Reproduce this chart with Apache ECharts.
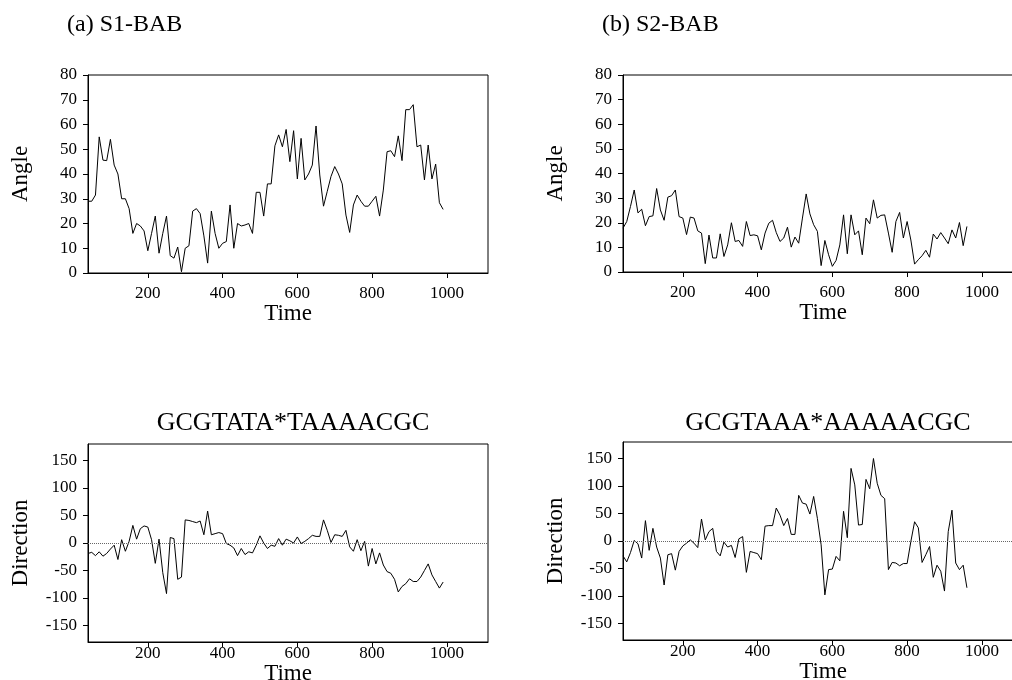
<!DOCTYPE html>
<html>
<head>
<meta charset="utf-8">
<script src="https://cdn.jsdelivr.net/npm/echarts@6/dist/echarts.min.js"></script>
<style>
html,body{margin:0;padding:0;background:#fff;}
#c{width:1012px;height:680px;}
</style>
</head>
<body>
<div id="c"></div>
<script>
// ---- data ----
const timeA = [40,50,60,70,80,90,100,110,120,130,140,150,160,170,180,190,200,210,220,230,240,250,260,270,280,290,300,310,320,330,340,350,360,370,380,390,400,410,420,430,440,450,460,470,480,490,500,510,520,530,540,550,560,570,580,590,600,610,620,630,640,650,660,670,680,690,700,710,720,730,740,750,760,770,780,790,800,810,820,830,840,850,860,870,880,890,900,910,920,930,940,950,960,970,980,990];
const timeB = [40,50,60,70,80,90,100,110,120,130,140,150,160,170,180,190,200,210,220,230,240,250,260,270,280,290,300,310,320,330,340,350,360,370,380,390,400,410,420,430,440,450,460,470,480,490,500,510,520,530,540,550,560,570,580,590,600,610,620,630,640,650,660,670,680,690,700,710,720,730,740,750,760,770,780,790,800,810,820,830,840,850,860,870,880,890,900,910,920,930,940,950,960];

const angleS1 = [29,29,31.5,55,45.6,45.4,54,43.6,40,30,30,26,16,20,19,17,9,16,23,8,16,23,7,6,10.5,0.5,10,11,25,26,24,15,4,25,16,10,12,12.7,27.5,10,20,19,19.4,20,16,32.6,32.6,23,36,36,51.4,55.8,51,58,45,
  57.5,38,54.4,37.6,40,43.6,59.4,39.6,27,33,39,43,40,36,23.4,16.4,27.5,31.5,29,27,27,29,31,23,33.5,49,49.4,47,55.4,45.4,66,66,68,51,51.7,37.6,51.7,38,44,28.4,25.7];
const angleS2 = [17.8,20.5,26.6,33.3,24,25.5,18.8,22.5,22.8,33.9,25.2,21,30.4,31,33.3,22.5,21.9,15.2,22.3,21.9,16.7,15.8,3.4,15,5.7,5.7,15.5,6.3,11,20,12.4,12.8,10.4,20.5,14.8,15.1,14.7,9,15.8,19.8,21,16,12.4,13.8,18.2,10.1,14.2,11.7,21.9,31.7,23.6,
  19.2,16.5,2.6,12.8,7,2.3,4.7,11,23.2,7.4,23.2,15.1,16.7,7,21.9,19.6,29.3,21.9,23,23.2,15.8,8,20.5,24.2,13.8,20.5,13,3.2,5,6.6,8.8,6,15.4,13.4,16,13.8,11.5,17.1,13.8,20.1,10.7,18.5];
const dirS1 = [-19,-17,-23,-16,-24,-19,-11,-4,-30,6,-15,3,32,7,26,31,29,6,-37,7,-54,-92,10,8,-66,-62,42,41,39,37,40,15,58,15,17,19,17,-1,-4,-9,-23,-10,-21,-16,-18,-4,13,0,-10,-4,-6,8,-4,7,4,
  0,11,-1,3,8,14,12,12,42,23,1,15,14,12,23,-7,-15,6,-14,3,-42,-10,-38,-18,-40,-52,-55,-66,-89,-79,-74,-65,-70,-70,-62,-50,-38,-58,-70,-82,-71];
const dirS2 = [-27,-38,-21,1,-5,-31,37,-17,23,-11,-31,-80,-25,-23,-53,-19,-9,-4,2,-4,-12,40,2,17,23,-19,-27,-2,-11,-8,-30,4,8,-57,-19,-21,-23,-34,27,28,28,60,47,28,41,12,12,83,69,67,49,81,
  41,-7,-98,-52,-51,-28,-36,54,6,132,102,29,30,112,95,150,105,83,77,-52,-39,-40,-45,-41,-41,-1,35,24,-39,-25,-10,-66,-44,-55,-91,17,56,-40,-52,-44,-85];

const titles = ['(a) S1-BAB', '(b) S2-BAB', 'GCGTATA*TAAAACGC', 'GCGTAAA*AAAAACGC'];
const timeTicks = [200, 400, 600, 800, 1000];
const angleTicks = [0, 10, 20, 30, 40, 50, 60, 70, 80];
const dirTicks = [-150, -100, -50, 0, 50, 100, 150];
const xName = 'Time';
const yNames = ['Angle', 'Direction'];

// ---- chart ----
const FONT = '"Liberation Serif", "DejaVu Serif", serif';
const zip = (t, v) => t.map((x, i) => [x, v[i]]);

const grids = [
  {left: 88, top: 75, width: 400, height: 198},
  {left: 623, top: 75, width: 400, height: 197},
  {left: 88, top: 444, width: 400, height: 198},
  {left: 623, top: 442, width: 400, height: 198}
].map(g => Object.assign({show: true, borderColor: '#000', borderWidth: 1, backgroundColor: 'transparent',
  outerBoundsMode: 'none', containLabel: false}, g));

function xAx(i, top) {
  return {
    gridIndex: i, type: 'value', min: 40, max: 1110,
    name: xName, nameLocation: 'middle', nameGap: top ? 14 : 2,
    nameTextStyle: {fontFamily: FONT, fontSize: 23, color: '#000'},
    axisLine: {show: true, onZero: false, lineStyle: {color: '#000', width: 1}},
    axisTick: {show: true, length: 5, customValues: timeTicks, lineStyle: {color: '#000'}},
    axisLabel: {customValues: timeTicks, formatter: v => String(v), fontFamily: FONT, fontSize: 17, color: '#000', margin: top ? 12 : 3},
    splitLine: {show: false}
  };
}
function yAx(i, top) {
  const base = {
    gridIndex: i, type: 'value',
    name: top ? yNames[0] : yNames[1], nameLocation: 'middle', nameGap: 56,
    nameTextStyle: {fontFamily: FONT, fontSize: 23, color: '#000'},
    axisLine: {show: true, onZero: false, lineStyle: {color: '#000', width: 1}},
    axisTick: {show: true, length: 5, lineStyle: {color: '#000'}},
    axisLabel: {fontFamily: FONT, fontSize: 17, color: '#000', margin: 11},
    splitLine: {show: false}
  };
  if (top) {
    base.min = 0; base.max = 80; base.interval = 10;
  } else {
    base.min = -180; base.max = 180;
    base.axisTick.customValues = dirTicks;
    base.axisLabel.customValues = dirTicks;
  }
  return base;
}

const lineStyle = {color: '#000', width: 1};
function ser(i, t, v, zero) {
  const s = {
    type: 'line', xAxisIndex: i, yAxisIndex: i, data: zip(t, v),
    showSymbol: false, symbol: 'none', lineStyle: lineStyle, animation: false, silent: true
  };
  if (zero) {
    s.markLine = {
      silent: true, symbol: ['none', 'none'], label: {show: false},
      lineStyle: {type: 'dotted', color: '#666', width: 1},
      data: [{yAxis: 0}], animation: false
    };
  }
  return s;
}

const tStyle = size => ({fontFamily: FONT, fontSize: size, fontWeight: 'normal', color: '#000'});
const option = {
  backgroundColor: '#fff',
  animation: false,
  title: [
    {text: titles[0], left: 62, top: 8, textStyle: tStyle(24)},
    {text: titles[1], left: 597, top: 8, textStyle: tStyle(24)},
    {text: titles[2], left: 288, top: 405, textAlign: 'center', textStyle: tStyle(26)},
    {text: titles[3], left: 823, top: 405, textAlign: 'center', textStyle: tStyle(26)}
  ],
  grid: grids,
  xAxis: [xAx(0, true), xAx(1, true), xAx(2, false), xAx(3, false)],
  yAxis: [yAx(0, true), yAx(1, true), yAx(2, false), yAx(3, false)],
  series: [
    ser(0, timeA, angleS1, false),
    ser(1, timeB, angleS2, false),
    ser(2, timeA, dirS1, true),
    ser(3, timeB, dirS2, true)
  ]
};

const chart = echarts.init(document.getElementById('c'), null, {renderer: 'canvas'});
chart.setOption(option);
</script>
</body>
</html>
